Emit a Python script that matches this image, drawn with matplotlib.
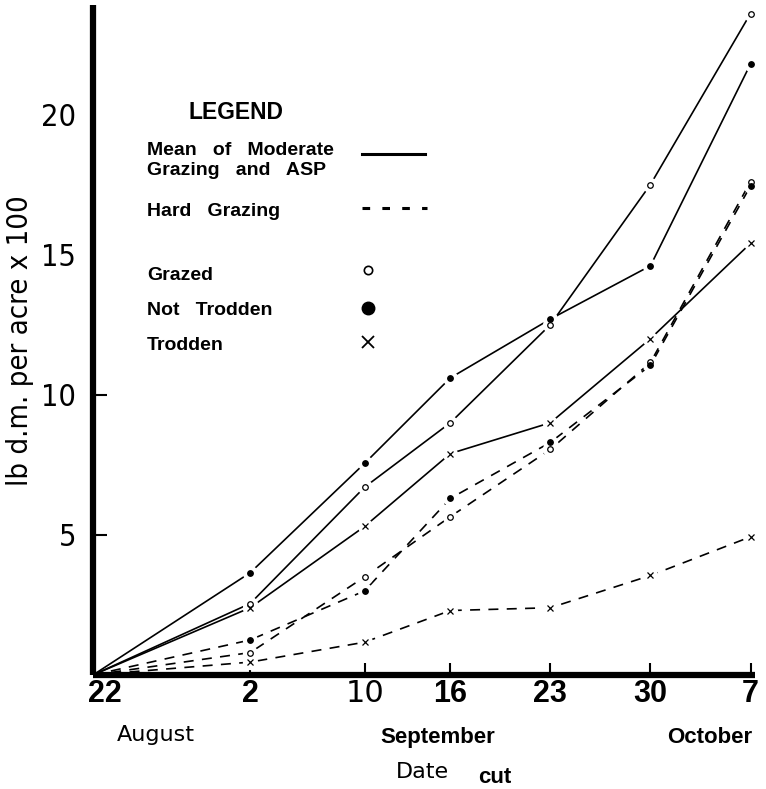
import matplotlib
matplotlib.use("Agg")
from matplotlib import pyplot as plt
from matplotlib.transforms import ScaledTranslation

# cutting dates, as days after 22 August
days = [0, 11, 19, 25, 32, 39, 46]
day_labels = ["22", "2", "10", "16", "23", "30", "7"]

# lb dry matter per acre x 100
moderate_grazed = [0, 2.55, 6.7, 9.0, 12.5, 17.5, 23.6]
moderate_not_trodden = [0, 3.65, 7.55, 10.6, 12.7, 14.6, 21.8]
moderate_trodden = [0, 2.4, 5.3, 7.9, 9.0, 12.0, 15.4]
hard_grazed = [0, 0.8, 3.5, 5.65, 8.05, 11.15, 17.6]
hard_not_trodden = [0, 1.25, 3.0, 6.3, 8.3, 11.05, 17.45]
hard_trodden = [0, 0.46, 1.17, 2.3, 2.4, 3.55, 4.93]

y_ticks = [5, 10, 15, 20]

BOLD = ["Liberation Sans", "DejaVu Sans"]
ROUND = ["DejaVu Sans"]
DASH = (0, (6, 5))

fig = plt.figure(figsize=(7.66, 7.89), dpi=100)
ax = fig.add_axes([0.1214, 0.1445, 0.864, 0.849])

series = [
    (moderate_grazed, "-", "o", "none"),
    (moderate_not_trodden, "-", "o", "black"),
    (moderate_trodden, "-", "x", "none"),
    (hard_grazed, DASH, "o", "none"),
    (hard_not_trodden, DASH, "o", "black"),
    (hard_trodden, DASH, "x", "none"),
]
for values, ls, marker, fill in series:
    ax.plot(days, values, color="black", linestyle=ls, linewidth=1.2, zorder=2)
    # white halo so the lines stop short of each point, like the drawing
    ax.plot(days[1:], values[1:], linestyle="none", marker="o", markersize=11,
            markerfacecolor="white", markeredgecolor="none", zorder=3, clip_on=False)
    ax.plot(days[1:], values[1:], linestyle="none", marker=marker, markersize=4,
            markerfacecolor=fill, markeredgecolor="black", markeredgewidth=0.9,
            zorder=4, clip_on=False)

ax.set_xlim(0, 46.3)
ax.set_ylim(0, 23.9)

for side in ["top", "right"]:
    ax.spines[side].set_visible(False)
for side in ["left", "bottom"]:
    ax.spines[side].set_linewidth(4.5)
    ax.spines[side].set_capstyle("butt")

ax.set_yticks(y_ticks)
ax.set_yticklabels([str(t) for t in y_ticks], family=ROUND, fontsize=22,
                   fontstretch="condensed")
ax.tick_params(axis="y", direction="in", length=10, width=1.5, pad=12)
for tick in ax.yaxis.get_major_ticks()[2:]:
    tick.tick1line.set_visible(False)

ax.set_xticks(days)
ax.set_xticklabels(day_labels, family=BOLD, fontweight="bold", fontsize=22)
ax.tick_params(axis="x", direction="in", length=9, width=1.5, pad=3)
xlabels = ax.get_xticklabels()
xlabels[2].set_fontweight("normal")
xlabels[2].set_family(ROUND)
xlabels[0].set_ha("left")
xlabels[0].set_transform(xlabels[0].get_transform()
                         + ScaledTranslation(-5 / 100, 0, fig.dpi_scale_trans))

fig.text(0.026, 0.568, "lb d.m. per acre x 100", rotation=90, family=ROUND,
         fontsize=21, fontstretch="condensed", ha="center", va="center")
fig.text(0.204, 0.069, "August", family=ROUND, fontsize=16, ha="center", va="center")
fig.text(0.572, 0.065, "September", family=BOLD, fontweight="bold", fontsize=16,
         ha="center", va="center")
fig.text(0.927, 0.065, "October", family=BOLD, fontweight="bold", fontsize=16,
         ha="center", va="center")
fig.text(0.551, 0.0215, "Date", family=ROUND, fontsize=16, ha="center", va="center")
fig.text(0.646, 0.015, "cut", family=BOLD, fontweight="bold", fontsize=16,
         ha="center", va="center")

# legend, drawn by hand as in the original figure
lg = dict(family=BOLD, fontweight="bold", fontsize=14, transform=ax.transAxes,
          va="center", ha="left")
ax.text(0.216, 0.840, "LEGEND", **{**lg, "ha": "center", "fontsize": 16.5})
ax.text(0.0816, 0.7836, "Mean   of   Moderate", **lg)
ax.text(0.0816, 0.7537, "Grazing   and   ASP", **lg)
ax.text(0.0816, 0.6925, "Hard   Grazing", **lg)
ax.text(0.0816, 0.597, "Grazed", **lg)
ax.text(0.0816, 0.5448, "Not   Trodden", **lg)
ax.text(0.0816, 0.4925, "Trodden", **lg)
ax.plot([0.406, 0.502], [0.7776, 0.7776], color="black", linewidth=2.2,
        transform=ax.transAxes)
ax.plot([0.406, 0.505], [0.697, 0.697], color="black", linewidth=2.2,
        linestyle=(0, (2.5, 4)), transform=ax.transAxes)
ax.plot([0.415], [0.6045], marker="o", markersize=6, markerfacecolor="none",
        markeredgecolor="black", markeredgewidth=1.2, transform=ax.transAxes)
ax.plot([0.415], [0.5478], marker="o", markersize=9, color="black",
        transform=ax.transAxes)
ax.plot([0.415], [0.497], marker="x", markersize=9, color="black",
        markeredgewidth=1.3, transform=ax.transAxes)

fig.savefig("out.png", dpi=100)
